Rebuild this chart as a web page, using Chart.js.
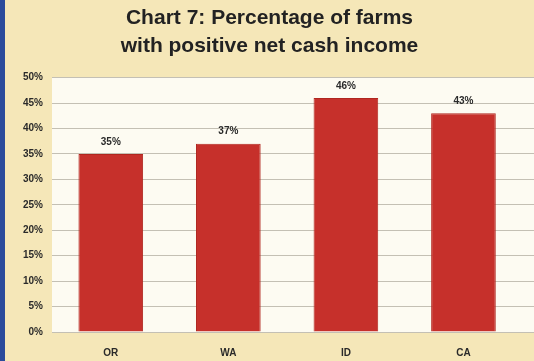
<!DOCTYPE html>
<html>
<head>
<meta charset="utf-8">
<script src="https://cdn.jsdelivr.net/npm/chart.js@4/dist/chart.umd.min.js"></script>
<style>
	html, body { margin: 0; padding: 0; background: #f5e7b8; }
	#wrap { position: relative; width: 534px; height: 361px; background: #f5e7b8; border-left: 5px solid #2b4b9b; box-sizing: border-box; }
	canvas { display: block; }
</style>
</head>
<body>
<div id="wrap"><canvas id="chart7" width="529" height="361"></canvas></div>
<script>
	// farm data, share with positive net cash income (percent)
	let states = ['OR', 'WA', 'ID', 'CA']
	let positivePct = [35, 37, 46, 43]
	let yTicks = [0, 5, 10, 15, 20, 25, 30, 35, 40, 45, 50]

	let barRed = '#c6302b'
	let gridGray = '#c4c0b4'
	let font = '"Liberation Sans", Arial, sans-serif'

	// states sit on an index axis; the panel runs a bit past the last one
	let points = states.map((s, i) => ({ x: i, y: positivePct[i] }))

	// white panel behind the plot
	let panel = {
		id: 'panel',
		beforeDraw: chart => {
			let ctx = chart.ctx
			let area = chart.chartArea
			ctx.save()
			ctx.fillStyle = '#fdfbf2'
			ctx.fillRect(area.left, area.top, area.right - area.left, area.bottom - area.top)
			ctx.restore()
		}
	}

	// value labels above each bar
	let valueLabels = {
		id: 'valueLabels',
		afterDatasetsDraw: chart => {
			let ctx = chart.ctx
			let meta = chart.getDatasetMeta(0)
			ctx.save()
			ctx.font = 'bold 10px ' + font
			ctx.fillStyle = '#2a2a2a'
			ctx.textAlign = 'center'
			ctx.textBaseline = 'bottom'
			meta.data.forEach((bar, i) => {
				ctx.fillText(positivePct[i] + '%', bar.x, bar.y - 7)
			})
			ctx.restore()
		}
	}

	new Chart(document.getElementById('chart7'), {
		type: 'bar',
		data: {
			datasets: [{
				data: points,
				backgroundColor: barRed,
				borderColor: '#b0261f',
				borderWidth: 1,
				categoryPercentage: 1,
				barPercentage: 0.55
			}]
		},
		plugins: [panel, valueLabels],
		options: {
			responsive: false,
			animation: false,
			events: [],
			plugins: {
				legend: { display: false },
				tooltip: { enabled: false },
				title: {
					display: true,
					text: ['Chart 7: Percentage of farms', 'with positive net cash income'],
					color: '#222',
					font: { family: font, size: 21, weight: 'bold', lineHeight: 1.3 },
					padding: { top: 5, bottom: 18 }
				}
			},
			scales: {
				x: {
					type: 'linear',
					offset: false,
					min: -0.5,
					max: 3.6,
					afterBuildTicks: axis => { axis.ticks = states.map((s, i) => ({ value: i })) },
					afterFit: axis => { axis.height = 29 },
					grid: { display: false },
					border: { display: false },
					ticks: {
						color: '#2a2a2a',
						padding: 7,
						callback: v => states[v],
						font: { family: font, size: 10, weight: 'bold' }
					}
				},
				y: {
					min: 0,
					max: 50,
					afterBuildTicks: axis => { axis.ticks = yTicks.map(v => ({ value: v })) },
					afterFit: axis => { axis.width = 47 },
					grid: { color: gridGray, drawTicks: false },
					border: { display: false },
					ticks: {
						color: '#2a2a2a',
						padding: 9,
						callback: v => v + '%',
						font: { family: font, size: 10, weight: 'bold' }
					}
				}
			}
		}
	})
</script>
</body>
</html>
